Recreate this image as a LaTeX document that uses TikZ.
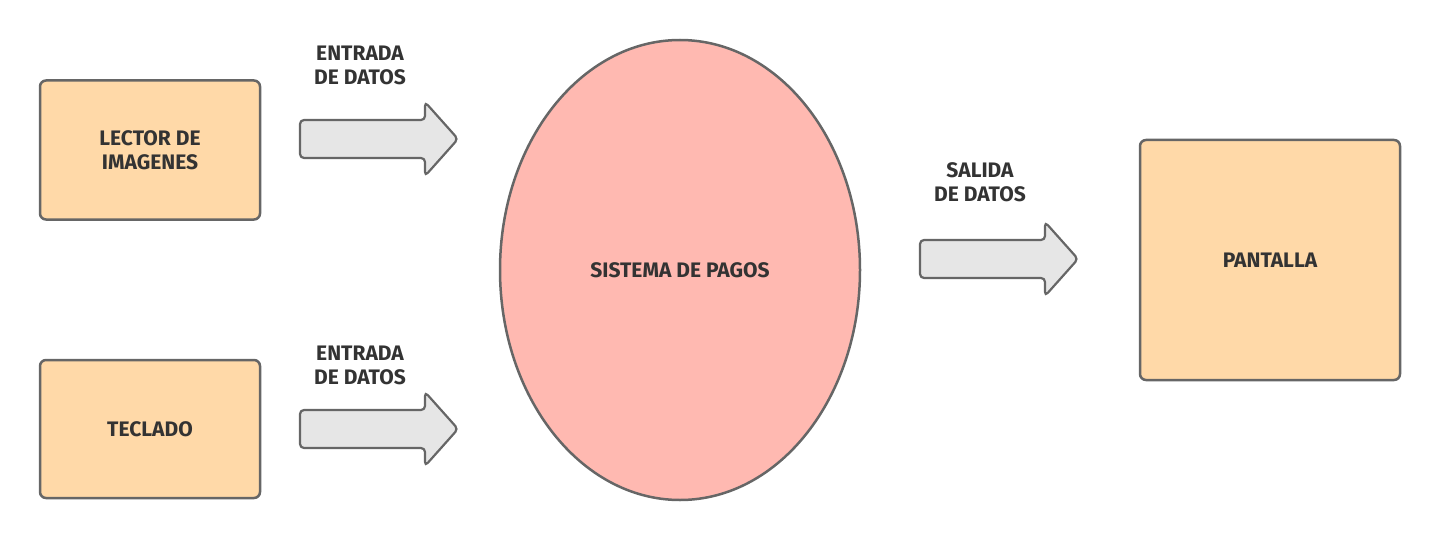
\documentclass[tikz,border=0pt]{standalone}
\usepackage{fontspec}
\setmainfont{Fira Sans}
\usetikzlibrary{shapes.geometric}
\definecolor{boxfill}{HTML}{FFD9A8}
\definecolor{ovalfill}{HTML}{FFB9B1}
\definecolor{arrowfill}{HTML}{E6E6E6}
\definecolor{edge}{HTML}{666666}
\definecolor{ink}{HTML}{333333}
\tikzset{
  txt/.style={text=ink,align=center,font=\fontsize{10.5}{12}\selectfont\bfseries},
  device/.style={txt,draw=edge,fill=boxfill,line width=1.25pt,rounded corners=3pt},
  process/.style={txt,ellipse,draw=edge,fill=ovalfill,line width=1.25pt},
  flow/.style={draw=edge,fill=arrowfill,line width=1.1pt,rounded corners=2pt}
}
\begin{document}
\begin{tikzpicture}[x=0.5pt,y=-0.5pt]
\useasboundingbox (0,0) rectangle (1440,540);
% devices
\node[device,minimum width=110pt,minimum height=69.5pt] (lector) at (150,150) {LECTOR DE\\IMAGENES};
\node[device,minimum width=110pt,minimum height=69pt] (teclado) at (150,429) {TECLADO};
\node[device,minimum width=130pt,minimum height=120pt] (pantalla) at (1270,260) {PANTALLA};
% central process
\node[process,minimum width=180pt,minimum height=230pt] (sistema) at (680,270) {SISTEMA DE PAGOS};
% block arrows
\foreach \x/\y in {300/139,300/429,920/259}
  \draw[flow] (\x,\y-19) -- (\x+125,\y-19) -- (\x+125,\y-37) -- (\x+158,\y)
    -- (\x+125,\y+37) -- (\x+125,\y+19) -- (\x,\y+19) -- cycle;
% labels
\node[txt] (in1) at (360,65) {ENTRADA\\DE DATOS};
\node[txt] (in2) at (360,365) {ENTRADA\\DE DATOS};
\node[txt] (out) at (980,182) {SALIDA\\DE DATOS};
\end{tikzpicture}
\end{document}
